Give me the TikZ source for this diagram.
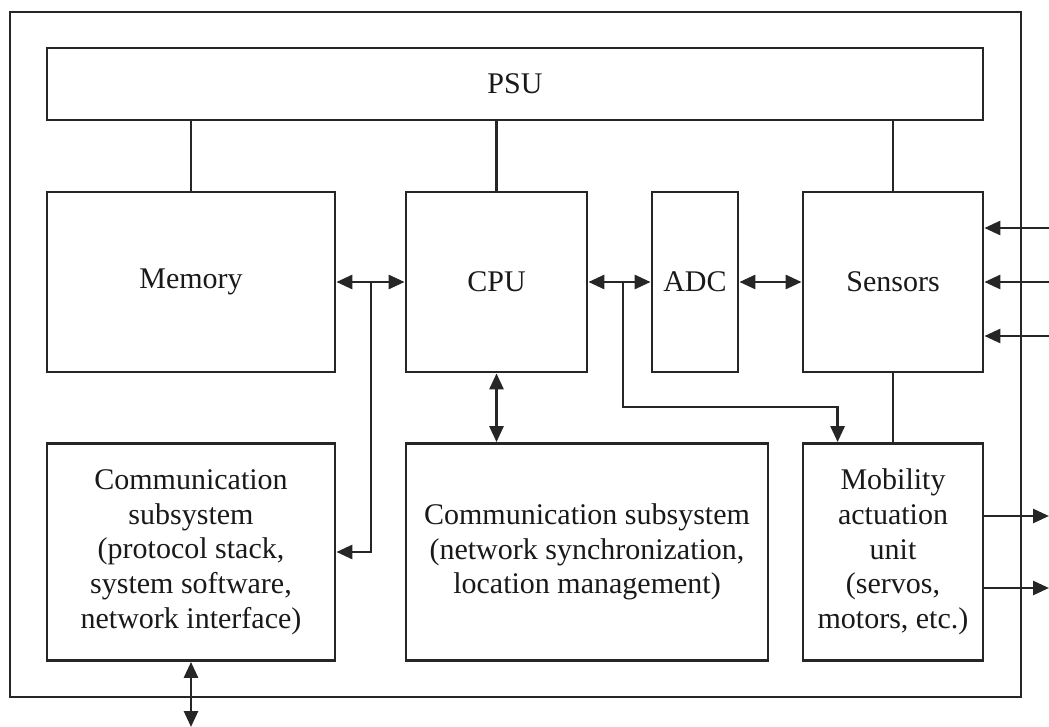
\documentclass[tikz,border=0pt]{standalone}
\usepackage{fontspec}
\setmainfont{Liberation Serif}
\usetikzlibrary{arrows.meta,calc}
\begin{document}
\begin{tikzpicture}[x=1pt,y=-1pt,
  line width=2.8pt, draw=black!85,
  box/.style={draw, inner sep=0pt, align=center, font=\fontsize{30}{34.7}\selectfont, text=black!90},
  tip/.style={-{Triangle[length=16pt,width=14pt]}},
  dtip/.style={{Triangle[length=16pt,width=14pt]}-{Triangle[length=16pt,width=14pt]}}]
\useasboundingbox (0,0) rectangle (1049,727);
\draw (10,12) rectangle (1021,697);
\node[box, minimum width=936, minimum height=72] (psu) at (515,84) {PSU};
\node[box, minimum width=288, minimum height=180] (mem) at (191,282) {Memory};
\node[box, minimum width=181, minimum height=180] (cpu) at (496.5,282) {CPU};
\node[box, minimum width=86, minimum height=180] (adc) at (695,282) {ADC};
\node[box, minimum width=180, minimum height=180] (sen) at (893,282) {Sensors};
\node[box, minimum width=288, minimum height=217] (coml) at (191,552) {Communication\\subsystem\\(protocol stack,\\system software,\\network interface)};
\node[box, minimum width=362, minimum height=217] (comm) at (587,552) {Communication subsystem\\(network synchronization,\\location management)};
\node[box, minimum width=180, minimum height=217] (mob) at (893,552) {Mobility\\actuation\\unit\\(servos,\\motors, etc.)};
% power lines
\draw (mem.north) -- (mem.north |- psu.south);
\draw (cpu.north) -- (cpu.north |- psu.south);
\draw (sen.north) -- (sen.north |- psu.south);
\draw (sen.south) -- (mob.north);
% buses
\coordinate (j1) at (371,282);
\coordinate (j2) at (623,282);
\coordinate (mt) at ($(mob.north west)+(36,0)$);
\draw[dtip] (mem.east) -- (cpu.west);
\draw[tip] (j1) |- (coml.east);
\draw[dtip] (cpu.east) -- (adc.west);
\draw[tip] (j2) |- (mt |- 0,407) -- (mt);
\draw[dtip] (adc.east) -- (sen.west);
\draw[dtip] (cpu.south) -- (cpu.south |- comm.north);
% external
\coordinate (s1) at (1049,228);
\coordinate (s2) at (1049,282);
\coordinate (s3) at (1049,336);
\draw[tip] (s1) -- (sen.east |- s1);
\draw[tip] (s2) -- (sen.east |- s2);
\draw[tip] (s3) -- (sen.east |- s3);
\coordinate (o1) at (1049,516);
\coordinate (o2) at (1049,588);
\draw[tip] (mob.east |- o1) -- (o1);
\draw[tip] (mob.east |- o2) -- (o2);
\coordinate (cb) at (191,727);
\draw[dtip] (coml.south) -- (cb);
\end{tikzpicture}
\end{document}
